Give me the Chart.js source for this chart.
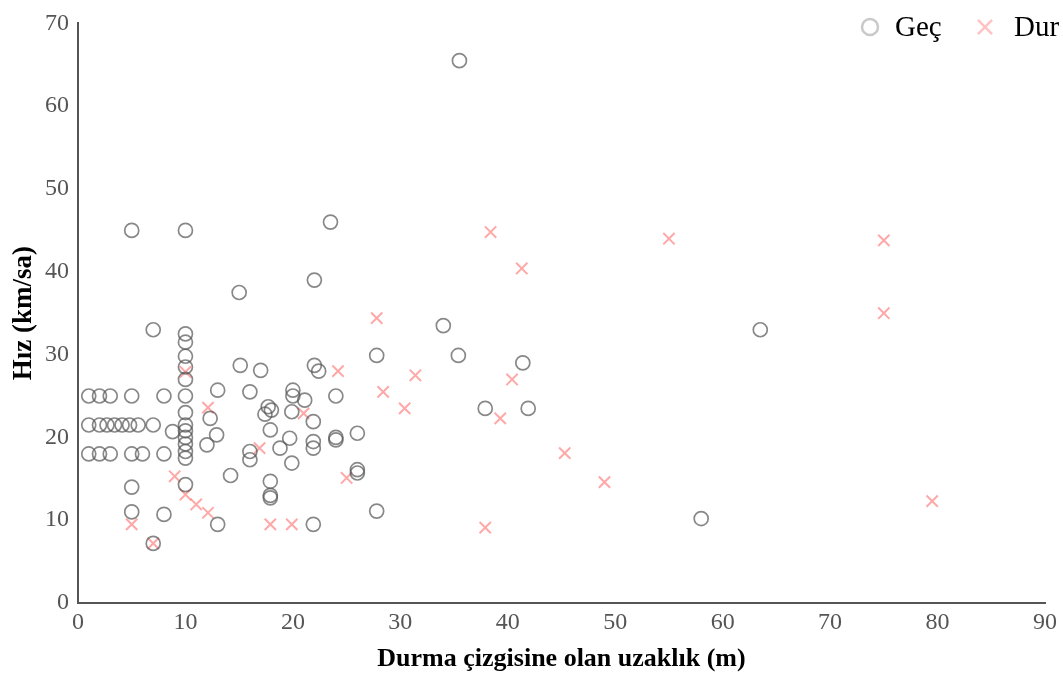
<!DOCTYPE html>
<html lang="tr">
<head>
<meta charset="UTF-8">
<title>Hız - Durma çizgisine olan uzaklık</title>
<script src="https://cdn.jsdelivr.net/npm/chart.js"></script>
<style>
    body { margin: 0; background: #fff; overflow: hidden; }
    #wrap { width: 1063px; height: 679px; }
</style>
</head>
<body>
<div id="wrap"><canvas id="chart" width="1063" height="679"></canvas></div>
<script>
    // Geç (geçen araçlar) - uzaklık (m) ve hız (km/sa)
    const gecX = [1, 2, 3, 5, 8,
        1, 2, 2.7, 3.4, 4.1, 4.8, 5.6, 7,
        1, 2, 3, 5, 6, 8,
        5, 10, 7, 5, 5, 8, 7, 13, 14.2,
        10, 10, 10, 10, 10, 10, 10, 10, 10, 10, 10, 10, 10, 10,
        8.8, 12.3, 12.9, 12, 13, 15.1, 17, 16, 15,
        22, 22.4, 24, 20, 20, 21.1, 17.7, 17.4, 18, 19.9, 21.9, 17.9, 16, 16, 19.7, 18.8, 19.9,
        21.9, 21.9, 24, 24, 26, 26, 26, 17.9, 17.9, 17.9, 21.9, 27.8, 27.8,
        22, 23.5, 35.5, 34, 35.4, 41.4, 37.9, 41.9, 58, 63.5];
    const gecY = [25, 25, 25, 25, 25,
        21.5, 21.5, 21.5, 21.5, 21.5, 21.5, 21.5, 21.5,
        18, 18, 18, 18, 18, 18,
        45, 45, 33, 14, 11, 10.7, 7.2, 9.5, 15.4,
        32.5, 31.5, 29.8, 28.5, 27, 25, 23, 21.5, 20.8, 20, 19.2, 18.3, 17.5, 14.3,
        20.7, 22.3, 20.3, 19.1, 25.7, 28.7, 28.1, 25.5, 37.5,
        28.7, 28, 25, 25.7, 25, 24.5, 23.7, 22.8, 23.3, 23.1, 21.9, 20.9, 18.3, 17.3, 19.9, 18.7, 16.9,
        19.5, 18.7, 19.7, 20, 20.5, 15.7, 16.1, 14.7, 12.7, 13, 9.5, 11.1, 29.9,
        39, 46, 65.5, 33.5, 29.9, 29, 23.5, 23.5, 10.2, 33];

    // Dur (duran araçlar)
    const durX = [38.4, 41.3, 27.8, 31.4, 28.4, 30.4, 40.4, 39.3, 45.3, 37.9, 24.2, 25,
        55, 75, 75, 49, 79.5, 10, 12.1, 21, 16.9, 9, 10, 11, 12.1, 17.9, 19.9, 5, 7];
    const durY = [44.8, 40.4, 34.4, 27.5, 25.5, 23.5, 27, 22.3, 18.1, 9.1, 28, 15.1,
        44, 43.8, 35, 14.6, 12.3, 27.9, 23.6, 22.9, 18.7, 15.3, 13.1, 11.9, 10.9, 9.5, 9.5, 9.5, 7.2];

    const seriesNames = ['Geç', 'Dur'];
    const xTitle = 'Durma çizgisine olan uzaklık (m)';
    const yTitle = 'Hız (km/sa)';

    const toPoints = (xs, ys) => xs.map((x, i) => ({ x: x, y: ys[i] }));
    const serif = "'Liberation Serif', 'DejaVu Serif', serif";

    // legend sits over the plot, top right, running off the edge like the original
    const floatingLegend = {
        id: 'floatingLegend',
        afterDraw(chart) {
            const ctx = chart.ctx;
            const spots = [870, 985];
            const y = 27;
            ctx.save();
            chart.data.datasets.forEach((ds, i) => {
                const x = spots[i];
                ctx.globalAlpha = i === 0 ? 0.45 : 0.7;
                ctx.strokeStyle = ds.borderColor;
                ctx.fillStyle = 'rgba(0,0,0,0)';
                ctx.lineWidth = 2.5;
                Chart.helpers.drawPoint(ctx, {
                    pointStyle: ds.pointStyle,
                    radius: i === 0 ? 8 : 10,
                    borderWidth: 2.5,
                    rotation: 0
                }, x, y);
                ctx.globalAlpha = 1;
                ctx.fillStyle = '#000';
                ctx.font = '29px ' + serif;
                ctx.textBaseline = 'middle';
                ctx.fillText(ds.label, x + 25 + i * 4, y + 1);
            });
            ctx.restore();
        }
    };

    new Chart(document.getElementById('chart'), {
        type: 'scatter',
        data: {
            datasets: [{
                label: seriesNames[0],
                data: toPoints(gecX, gecY),
                pointStyle: 'circle',
                pointRadius: 7,
                pointBorderWidth: 1.7,
                borderColor: 'rgba(85, 85, 85, 0.7)',
                backgroundColor: 'rgba(0, 0, 0, 0)'
            }, {
                label: seriesNames[1],
                data: toPoints(durX, durY),
                pointStyle: 'crossRot',
                pointRadius: 8,
                pointBorderWidth: 2,
                borderColor: 'rgba(255, 110, 110, 0.6)',
                backgroundColor: 'rgba(255, 110, 110, 0.6)'
            }]
        },
        options: {
            responsive: false,
            animation: false,
            layout: { padding: { top: 20, right: 18, left: 0, bottom: 0 } },
            plugins: {
                tooltip: { enabled: false },
                legend: { display: false }
            },
            scales: {
                x: {
                    type: 'linear',
                    min: 0,
                    max: 90,
                    ticks: { stepSize: 10, color: '#555', font: { family: serif, size: 24 }, padding: 5 },
                    grid: { display: false, drawTicks: false },
                    border: { display: true, color: '#555', width: 2 },
                    title: {
                        display: true,
                        text: xTitle,
                        color: '#000',
                        font: { family: serif, size: 26, weight: 'bold' },
                        padding: { top: 4, bottom: 4 }
                    },
                    afterFit: (s) => { s.height = 679 - 603; }
                },
                y: {
                    min: 0,
                    max: 70,
                    ticks: { stepSize: 10, color: '#555', font: { family: serif, size: 24 }, padding: 9 },
                    grid: { display: false, drawTicks: false },
                    border: { display: true, color: '#555', width: 2 },
                    title: {
                        display: true,
                        text: yTitle,
                        color: '#000',
                        font: { family: serif, size: 27, weight: 'bold' },
                        padding: { top: 8, bottom: 0 }
                    },
                    afterFit: (s) => { s.width = 78; }
                }
            }
        },
        plugins: [floatingLegend]
    });
</script>
</body>
</html>
